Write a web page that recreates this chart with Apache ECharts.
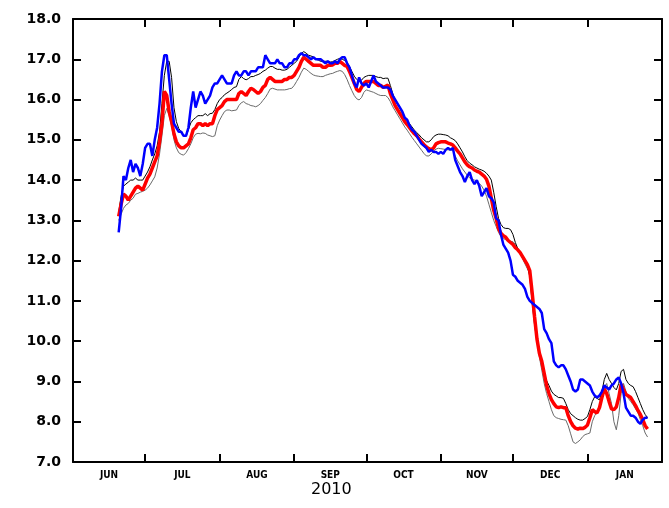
<!DOCTYPE html>
<html>
<head>
<meta charset="utf-8">
<title>2010</title>
<script src="https://cdn.jsdelivr.net/npm/echarts@6/dist/echarts.min.js"></script>
<style>
  html, body { margin: 0; padding: 0; background: #ffffff; }
  #chart { width: 669px; height: 508px; }
</style>
</head>
<body>
<div id="chart"></div>
<script>
// Daily values from 20 Jun 2010 (day 19 counted from 1 Jun) to 26 Jan 2011.
const firstDay = 19;

// Month boundaries (days from 1 Jun 2010) and their labels
const monthStarts = [0, 30, 61, 92, 122, 153, 183, 214, 245];
const monthLabels = ['JUN', 'JUL', 'AUG', 'SEP', 'OCT', 'NOV', 'DEC', 'JAN'];
const yearLabel = '2010';

// Value axis ticks
const yMin = 7, yMax = 18, yStep = 1;

// Observed series (blue)
const observed = [
  12.7, 13.3, 14.1, 14.0, 14.3, 14.5, 14.2, 14.4, 14.3, 14.1,
  14.4, 14.8, 14.9, 14.9, 14.6, 15.0, 15.3, 15.9, 16.7, 17.1,
  17.1, 16.5, 15.9, 15.4, 15.3, 15.2, 15.2, 15.1, 15.1, 15.3,
  15.8, 16.2, 15.8, 16.0, 16.2, 16.1, 15.9, 16.0, 16.1, 16.3,
  16.4, 16.4, 16.5, 16.6, 16.5, 16.4, 16.4, 16.4, 16.6, 16.7,
  16.6, 16.6, 16.7, 16.7, 16.6, 16.7, 16.7, 16.7, 16.8, 16.8,
  16.8, 17.1, 17.0, 16.9, 16.9, 16.9, 17.0, 16.9, 16.9, 16.8,
  16.8, 16.9, 16.9, 17.0, 17.0, 17.1, 17.15, 17.1, 17.1, 17.05,
  17.0, 17.05, 17.0, 17.0, 17.0, 16.95, 16.9, 16.95, 16.9, 16.9,
  16.95, 16.9, 17.0, 17.05, 17.05, 16.9, 16.8, 16.6, 16.4, 16.3,
  16.55, 16.4, 16.35, 16.4, 16.3, 16.45, 16.6, 16.45, 16.4, 16.35,
  16.3, 16.3, 16.3, 16.25, 16.1, 16.0, 15.9, 15.8, 15.7, 15.55,
  15.5, 15.35, 15.25, 15.2, 15.1, 15.0, 14.9, 14.85, 14.8, 14.7,
  14.75, 14.7, 14.7, 14.65, 14.7, 14.65, 14.75, 14.8, 14.75, 14.8,
  14.5, 14.35, 14.2, 14.1, 13.95, 14.1, 14.2, 14.0, 13.9, 14.0,
  13.85, 13.6, 13.7, 13.8, 13.6, 13.55, 13.45, 13.05, 13.0, 12.65,
  12.4, 12.3, 12.2, 12.0, 11.65, 11.6, 11.5, 11.45, 11.4, 11.3,
  11.1, 11.0, 10.95, 10.9, 10.85, 10.8, 10.7, 10.3, 10.2, 10.05,
  9.95, 9.5, 9.4, 9.35, 9.4, 9.4, 9.3, 9.15, 9.0, 8.8,
  8.75, 8.8, 9.05, 9.05, 9.0, 8.95, 8.9, 8.75, 8.65, 8.6,
  8.65, 8.75, 8.9, 8.85, 8.8, 8.9, 8.95, 9.05, 9.1, 8.95,
  8.7, 8.35, 8.25, 8.15, 8.15, 8.1, 8.0, 7.95, 8.05, 8.1,
  8.1
];

// Ensemble mean (red)
const ensembleMean = [
  13.1, 13.4, 13.65, 13.6, 13.5, 13.6, 13.7, 13.8, 13.85, 13.8,
  13.75, 13.9, 14.05, 14.15, 14.3, 14.45, 14.6, 14.95, 15.4, 16.2,
  16.1, 15.7, 15.45, 15.15, 14.95, 14.85, 14.8, 14.8, 14.85, 14.9,
  15.05, 15.25, 15.3, 15.4, 15.4, 15.35, 15.4, 15.35, 15.4, 15.4,
  15.6, 15.75, 15.8, 15.85, 15.95, 16.0, 16.0, 16.0, 16.0, 16.0,
  16.15, 16.2, 16.15, 16.1, 16.2, 16.28, 16.25, 16.2, 16.15, 16.2,
  16.3, 16.35, 16.5, 16.55, 16.5, 16.45, 16.45, 16.45, 16.45, 16.5,
  16.5, 16.55, 16.55, 16.6, 16.7, 16.8, 16.95, 17.05, 17.0, 16.95,
  16.9, 16.85, 16.85, 16.85, 16.85, 16.8, 16.8, 16.85, 16.85, 16.86,
  16.9, 16.9, 16.95, 16.9, 16.85, 16.82, 16.7, 16.55, 16.4, 16.25,
  16.2, 16.3, 16.4, 16.45, 16.45, 16.45, 16.45, 16.4, 16.35, 16.35,
  16.3, 16.33, 16.36, 16.15, 16.0, 15.85, 15.75, 15.65, 15.55, 15.45,
  15.38, 15.3, 15.22, 15.15, 15.1, 15.02, 14.95, 14.88, 14.82, 14.78,
  14.75, 14.8, 14.9, 14.93, 14.95, 14.95, 14.95, 14.92, 14.9, 14.87,
  14.8, 14.72, 14.65, 14.55, 14.45, 14.38, 14.33, 14.3, 14.25, 14.22,
  14.2, 14.15, 14.1, 14.02, 13.85, 13.55, 13.25, 13.05, 12.8, 12.68,
  12.62, 12.58, 12.5, 12.45, 12.4, 12.32, 12.27, 12.2, 12.1, 12.0,
  11.9, 11.75, 11.2, 10.6, 10.05, 9.7, 9.5, 9.2, 8.9, 8.7,
  8.55, 8.45, 8.37, 8.35, 8.37, 8.35, 8.35, 8.15, 8.0, 7.9,
  7.84, 7.82, 7.84, 7.83, 7.86, 7.92, 8.1, 8.3, 8.25, 8.22,
  8.35, 8.6, 8.82, 8.7, 8.5, 8.32, 8.3, 8.37, 8.6, 8.93,
  8.8, 8.68, 8.64, 8.6, 8.5, 8.4, 8.28, 8.18, 8.05, 7.9,
  7.82
];

// Upper envelope (black)
const ensembleUpper = [
  13.2, 13.6, 13.85, 13.9, 13.95, 14.0, 14.0, 14.05, 14.0, 14.0,
  14.0, 14.1, 14.2, 14.33, 14.5, 14.65, 14.85, 15.2, 15.9, 16.6,
  16.95, 16.95, 16.55, 15.8, 15.45, 15.28, 15.2, 15.1, 15.08, 15.25,
  15.42, 15.5, 15.55, 15.6, 15.6, 15.6, 15.65, 15.6, 15.65, 15.66,
  15.75, 15.9, 16.0, 16.05, 16.12, 16.16, 16.2, 16.25, 16.3, 16.32,
  16.5, 16.57, 16.52, 16.49, 16.52, 16.57, 16.57, 16.6, 16.62, 16.65,
  16.7, 16.73, 16.78, 16.82, 16.82, 16.78, 16.75, 16.75, 16.73, 16.73,
  16.75, 16.8, 16.85, 16.9, 16.95, 17.05, 17.15, 17.19, 17.15, 17.1,
  17.08, 17.06, 17.0, 16.98, 16.95, 16.95, 16.95, 16.95, 16.93, 16.94,
  16.97, 17.0, 17.02, 17.0, 16.97, 16.92, 16.82, 16.7, 16.58, 16.5,
  16.45, 16.48, 16.55, 16.58, 16.6, 16.6, 16.6, 16.57, 16.55, 16.55,
  16.52, 16.53, 16.53, 16.35, 16.15, 15.98, 15.88, 15.78, 15.66, 15.55,
  15.48, 15.4, 15.32, 15.24, 15.18, 15.12, 15.05, 15.0, 14.95, 14.95,
  15.0, 15.08, 15.12, 15.14, 15.14, 15.13, 15.12, 15.1, 15.05, 15.02,
  14.98, 14.9, 14.8, 14.7, 14.58, 14.48, 14.42, 14.38, 14.33, 14.3,
  14.27, 14.25, 14.22, 14.17, 14.1, 14.0, 13.7, 13.35, 13.05, 12.9,
  12.82, 12.8, 12.8, 12.77, 12.65, 12.45, 12.3, 12.2, 12.1, 12.0,
  11.9, 11.6, 10.95, 10.4, 10.0, 9.72, 9.45, 9.2, 9.02, 8.9,
  8.76, 8.68, 8.64, 8.6, 8.6, 8.58, 8.45, 8.3, 8.2, 8.15,
  8.1, 8.06, 8.04, 8.04, 8.08, 8.13, 8.3, 8.5, 8.62, 8.58,
  8.54, 8.75, 9.05, 9.2, 9.05, 8.95, 8.85, 8.79, 8.95, 9.25,
  9.3, 9.05, 8.95, 8.9, 8.87, 8.75, 8.6, 8.45, 8.3, 8.18,
  8.1
];

// Lower envelope (grey)
const ensembleLower = [
  13.0, 13.15, 13.3, 13.38, 13.42, 13.5, 13.55, 13.65, 13.67, 13.7,
  13.72, 13.75, 13.8, 13.88, 13.98, 14.08, 14.3, 14.65, 15.1, 15.6,
  15.78, 15.6, 15.35, 15.0, 14.8, 14.68, 14.64, 14.62, 14.68, 14.78,
  14.9, 15.05, 15.14, 15.16, 15.15, 15.17, 15.16, 15.12, 15.1, 15.08,
  15.1, 15.35, 15.49, 15.6, 15.7, 15.74, 15.74, 15.72, 15.73, 15.74,
  15.85, 15.92, 15.95, 15.9, 15.88, 15.85, 15.84, 15.82, 15.85, 15.9,
  15.98, 16.05, 16.15, 16.26, 16.28, 16.26, 16.24, 16.24, 16.24, 16.24,
  16.25, 16.27, 16.28, 16.35, 16.45, 16.55, 16.68, 16.78, 16.75, 16.7,
  16.65, 16.61, 16.59, 16.58, 16.57, 16.57, 16.6, 16.62, 16.64, 16.65,
  16.68, 16.7, 16.72, 16.7, 16.62, 16.5, 16.35, 16.22, 16.1, 16.02,
  15.99, 16.05, 16.18, 16.24, 16.22, 16.2, 16.18, 16.15, 16.12, 16.1,
  16.1, 16.1, 16.05, 15.95, 15.82, 15.72, 15.62, 15.52, 15.42, 15.32,
  15.24, 15.15, 15.06, 14.98, 14.9, 14.82, 14.74, 14.66, 14.6, 14.6,
  14.65, 14.72, 14.77, 14.79, 14.78, 14.77, 14.76, 14.75, 14.75, 14.74,
  14.6, 14.48, 14.38, 14.28, 14.2, 14.12, 14.05, 14.02, 14.0, 13.97,
  13.92, 13.85, 13.75, 13.6, 13.4, 13.2, 13.0, 12.85, 12.7, 12.6,
  12.55, 12.52, 12.5, 12.48, 12.47, 12.4, 12.3, 12.18, 12.05, 11.92,
  11.8, 11.65, 11.3, 10.55, 10.0, 9.6, 9.28, 8.95, 8.7, 8.5,
  8.3, 8.15, 8.1, 8.08, 8.06, 8.05, 8.04, 7.9, 7.7, 7.5,
  7.46, 7.5, 7.55, 7.63, 7.68, 7.7, 7.72, 8.0, 8.15, 8.25,
  8.37, 8.6, 8.85, 8.95, 8.7, 8.45, 8.0, 7.8, 8.15, 8.7,
  8.95, 8.75, 8.58, 8.5, 8.42, 8.32, 8.22, 8.05, 7.9, 7.72,
  7.62
];

// Pair each daily value with its day number for the value axis
const toPairs = (arr) => arr.map((v, i) => [firstDay + i, v]);

// Month labels sit in the middle of each month
const labelDays = monthLabels.map((_, i) => (monthStarts[i] + monthStarts[i + 1]) / 2);

const AXIS_COLOR = '#000000';

const baseX = {
  type: 'value',
  min: monthStarts[0],
  max: monthStarts[monthStarts.length - 1],
  splitLine: { show: false },
  axisLine: { show: true, onZero: false, lineStyle: { color: AXIS_COLOR, width: 2 } },
  axisTick: { show: true, inside: true, length: 8, customValues: monthStarts.slice(1, -1),
              lineStyle: { color: AXIS_COLOR, width: 2 } }
};

const baseY = {
  type: 'value',
  min: yMin,
  max: yMax,
  interval: yStep,
  splitLine: { show: false },
  axisLine: { show: true, onZero: false, lineStyle: { color: AXIS_COLOR, width: 2 } },
  axisTick: { show: true, inside: true, length: 8, lineStyle: { color: AXIS_COLOR, width: 2 } }
};

const chart = echarts.init(document.getElementById('chart'), null, { renderer: 'canvas' });

chart.setOption({
  backgroundColor: '#ffffff',
  animation: false,
  grid: { left: 73, right: 7, top: 19, bottom: 46, containLabel: false, outerBoundsMode: 'none' },
  xAxis: [
    Object.assign({}, baseX, {
      position: 'bottom',
      axisLabel: {
        show: true,
        customValues: labelDays,
        margin: 8,
        color: '#000',
        fontFamily: 'DejaVu Sans Condensed, DejaVu Sans, sans-serif',
        fontWeight: 'bold',
        fontSize: 10,
        formatter: (v) => {
          const i = labelDays.indexOf(v);
          return i >= 0 ? monthLabels[i] : '';
        }
      }
    }),
    Object.assign({}, baseX, { position: 'top', axisLabel: { show: false } })
  ],
  yAxis: [
    Object.assign({}, baseY, {
      position: 'left',
      axisLabel: {
        show: true,
        margin: 12,
        color: '#000',
        fontFamily: 'DejaVu Sans, sans-serif',
        fontWeight: 'bold',
        fontSize: 14,
        formatter: (v) => v.toFixed(1)
      }
    }),
    Object.assign({}, baseY, { position: 'right', axisLabel: { show: false } })
  ],
  graphic: [
    {
      type: 'text',
      left: 311,
      top: 482,
      style: {
        text: yearLabel,
        fill: '#000',
        font: '16px "DejaVu Sans", sans-serif'
      }
    }
  ],
  series: [
    {
      name: 'lower', type: 'line', data: toPairs(ensembleLower),
      showSymbol: false, symbol: 'none',
      lineStyle: { color: '#6a6a6a', width: 1 }
    },
    {
      name: 'upper', type: 'line', data: toPairs(ensembleUpper),
      showSymbol: false, symbol: 'none',
      lineStyle: { color: '#000000', width: 1 }
    },
    {
      name: 'mean', type: 'line', data: toPairs(ensembleMean),
      showSymbol: false, symbol: 'none',
      lineStyle: { color: '#ff0000', width: 3.5 }
    },
    {
      name: 'observed', type: 'line', data: toPairs(observed),
      showSymbol: false, symbol: 'none',
      lineStyle: { color: '#0000ff', width: 2.5 }
    }
  ]
});
</script>
</body>
</html>
